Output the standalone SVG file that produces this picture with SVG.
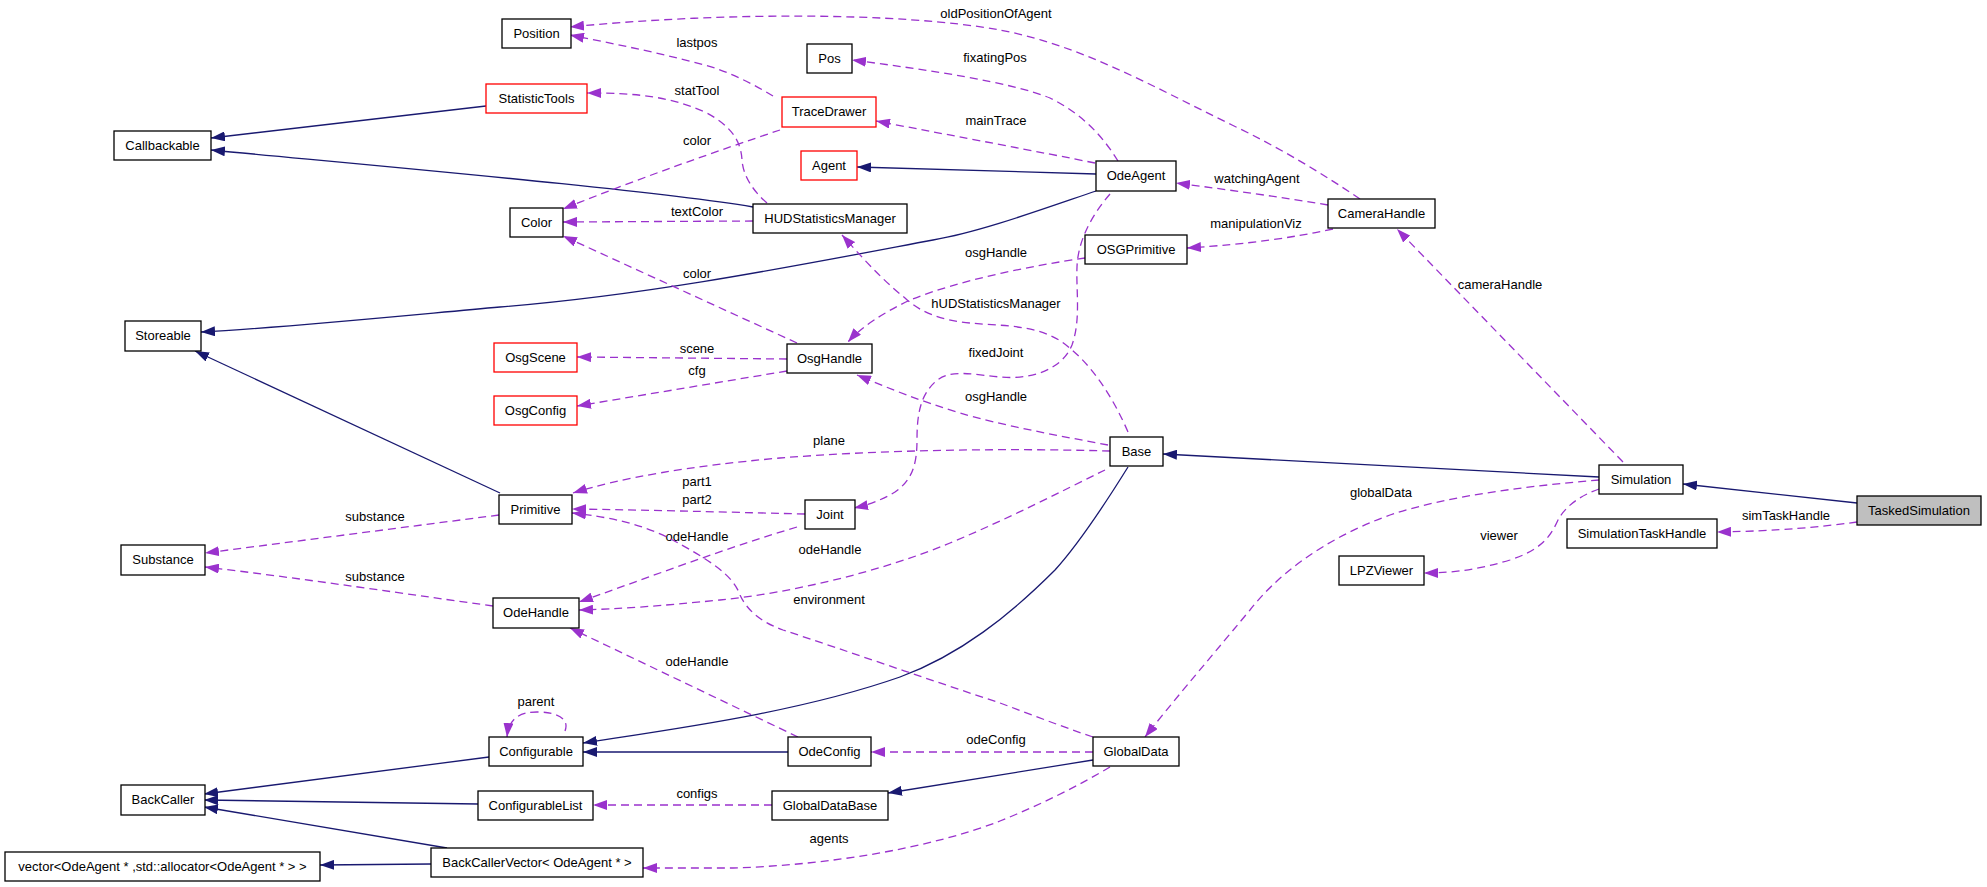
<svg xmlns="http://www.w3.org/2000/svg" width="1987" height="887" viewBox="0 0 1987 887">
<style>
.n rect{fill:#fff;stroke:#000;stroke-width:1.3}
.n.r rect{stroke:#f00}
.n.g rect{fill:#bfbfbf}
text{font-family:"Liberation Sans",Arial,Helvetica,sans-serif;font-size:13px;fill:#000;text-anchor:middle}
.inh{fill:none;stroke:#191970;stroke-width:1.3;marker-end:url(#ai)}
.use{fill:none;stroke:#9a32cd;stroke-width:1.3;stroke-dasharray:8,5;marker-end:url(#au)}
</style>
<defs>
<marker id="ai" markerUnits="userSpaceOnUse" viewBox="0 0 14 10" markerWidth="14" markerHeight="10" refX="14" refY="5" orient="auto"><path d="M0,0 L14,5 L0,10 z" fill="#191970"/></marker>
<marker id="au" markerUnits="userSpaceOnUse" viewBox="0 0 14 10" markerWidth="14" markerHeight="10" refX="14" refY="5" orient="auto"><path d="M0,0 L14,5 L0,10 z" fill="#9a32cd"/></marker>
</defs>
<rect width="1987" height="887" fill="#fff"/>
<g id="edges">
<path class="inh" d="M486,106 L211,138"/>
<path class="inh" d="M753,207 C650,190 400,168 211,150"/>
<path class="inh" d="M1096,174 L857,167"/>
<path class="inh" d="M1096,191 C1040,210 980,232 933,240 C800,265 650,295 500,307 C400,316 280,328 201,332"/>
<path class="inh" d="M500,493 L195,351"/>
<path class="inh" d="M1128,467 C1100,512 1075,548 1055,570 C1010,615 960,655 900,677 C800,712 680,728 583,743"/>
<path class="inh" d="M788,752 L583,752"/>
<path class="inh" d="M1093,760 L888,793"/>
<path class="inh" d="M489,757 L204,794"/>
<path class="inh" d="M478,804 L204,800"/>
<path class="inh" d="M447,848 L204,807"/>
<path class="inh" d="M431,864 L320,865"/>
<path class="inh" d="M1599,477 L1163,454"/>
<path class="inh" d="M1857,503 L1683,484"/>

<path class="use" d="M1360,199 C1320,172 1280,148 1232,125 C1150,85 1080,45 1000,30 C900,12 720,12 570,27"/>
<text x="996" y="18">oldPositionOfAgent</text>
<path class="use" d="M773,96 C755,85 735,75 715,68 C670,55 620,45 570,35"/>
<text x="697" y="47">lastpos</text>
<path class="use" d="M1118,161 C1105,140 1085,115 1050,98 C1010,82 930,70 852,60"/>
<text x="995" y="62">fixatingPos</text>
<path class="use" d="M1095,163 C1040,152 960,137 876,121"/>
<text x="996" y="125">mainTrace</text>
<path class="use" d="M780,130 C720,150 640,178 563,209"/>
<text x="697" y="145">color</text>
<path class="use" d="M767,203 C752,190 743,175 742,160 C741,140 730,125 705,112 C670,97 640,93 587,93"/>
<text x="697" y="95">statTool</text>
<path class="use" d="M753,221 L563,222"/>
<text x="697" y="216">textColor</text>
<path class="use" d="M797,343 L563,236"/>
<text x="697" y="278">color</text>
<path class="use" d="M1085,258 C1030,266 960,280 910,300 C885,312 862,326 848,342"/>
<text x="996" y="257">osgHandle</text>
<path class="use" d="M1328,205 C1280,197 1230,190 1176,183"/>
<text x="1257" y="183">watchingAgent</text>
<path class="use" d="M1333,229 C1290,238 1250,244 1187,248"/>
<text x="1256" y="228">manipulationViz</text>
<path class="use" d="M1623,462 L1397,229"/>
<text x="1500" y="289">cameraHandle</text>
<path class="use" d="M787,359 L577,357"/>
<text x="697" y="353">scene</text>
<path class="use" d="M787,371 L577,406"/>
<text x="697" y="375">cfg</text>
<path class="use" d="M1128,432 C1112,395 1090,362 1062,342 C1035,324 1000,326 970,323 C940,320 920,312 905,298 C880,278 860,255 842,235"/>
<text x="996" y="308">hUDStatisticsManager</text>
<path class="use" d="M1110,194 C1092,215 1078,240 1077,267 C1076,290 1081,320 1072,345 C1062,370 1030,380 1000,377 C975,375 950,368 935,382 C920,396 917,415 917,440 C917,465 912,480 895,492 C882,500 868,505 854,508"/>
<text x="996" y="357">fixedJoint</text>
<path class="use" d="M1108,445 C1060,436 1000,425 960,413 C920,401 888,388 857,375"/>
<text x="996" y="401">osgHandle</text>
<path class="use" d="M1110,451 C1000,448 880,450 780,458 C690,466 620,478 573,493"/>
<text x="829" y="445">plane</text>
<path class="use" d="M805,514 C720,512 650,510 572,509"/>
<text x="697" y="486">part1</text>
<text x="697" y="504">part2</text>
<path class="use" d="M797,527 C720,550 650,577 579,602"/>
<text x="697" y="541">odeHandle</text>
<path class="use" d="M1105,470 C1060,492 1010,518 950,543 C880,572 790,593 720,600 C660,606 620,609 579,610"/>
<text x="830" y="554">odeHandle</text>
<path class="use" d="M1093,737 C1060,726 1030,714 1000,703 C930,680 850,652 783,630 C758,621 746,608 740,595 C733,575 710,560 667,537 C640,524 610,517 572,513"/>
<text x="829" y="604">environment</text>
<path class="use" d="M798,737 L570,628"/>
<text x="697" y="666">odeHandle</text>
<path class="use" d="M565,731 C570,718 556,712 537,712 C520,712 509,718 507,737"/>
<text x="536" y="706">parent</text>
<path class="use" d="M1093,752 L871,752"/>
<text x="996" y="744">odeConfig</text>
<path class="use" d="M772,805 L593,805"/>
<text x="697" y="798">configs</text>
<path class="use" d="M1110,767 C1080,785 1040,805 1000,821 C930,848 830,865 733,868 L643,868"/>
<text x="829" y="843">agents</text>
<path class="use" d="M1599,480 C1530,486 1450,495 1390,515 C1320,540 1275,578 1250,610 C1200,670 1170,705 1145,737"/>
<text x="1381" y="497">globalData</text>
<path class="use" d="M1599,489 C1582,495 1566,505 1558,520 C1550,538 1540,550 1510,560 C1480,569 1455,573 1424,573"/>
<text x="1499" y="540">viewer</text>
<path class="use" d="M1857,522 C1820,527 1780,531 1717,532"/>
<text x="1786" y="520">simTaskHandle</text>
<path class="use" d="M499,515 L205,553"/>
<text x="375" y="521">substance</text>
<path class="use" d="M493,606 C420,596 300,578 205,567"/>
<text x="375" y="581">substance</text>
</g>

<g id="node-Callbackable" class="n"><rect x="114" y="131" width="97" height="29"/><text x="162.5" y="150">Callbackable</text></g>
<g id="node-Position" class="n"><rect x="502" y="19" width="69" height="29"/><text x="536.5" y="38">Position</text></g>
<g id="node-Pos" class="n"><rect x="807" y="44" width="45" height="29"/><text x="829.5" y="63">Pos</text></g>
<g id="node-StatisticTools" class="n r"><rect x="486" y="84" width="101" height="29"/><text x="536.5" y="103">StatisticTools</text></g>
<g id="node-TraceDrawer" class="n r"><rect x="782" y="97" width="94" height="30"/><text x="829" y="116">TraceDrawer</text></g>
<g id="node-Agent" class="n r"><rect x="801" y="151" width="56" height="29"/><text x="829" y="170">Agent</text></g>
<g id="node-Color" class="n"><rect x="510" y="208" width="53" height="29"/><text x="536.5" y="227">Color</text></g>
<g id="node-HUDStatisticsManager" class="n"><rect x="753" y="204" width="154" height="29"/><text x="830" y="223">HUDStatisticsManager</text></g>
<g id="node-OdeAgent" class="n"><rect x="1096" y="161" width="80" height="30"/><text x="1136" y="180">OdeAgent</text></g>
<g id="node-CameraHandle" class="n"><rect x="1328" y="199" width="107" height="29"/><text x="1381.5" y="218">CameraHandle</text></g>
<g id="node-OSGPrimitive" class="n"><rect x="1085" y="235" width="102" height="29"/><text x="1136" y="254">OSGPrimitive</text></g>
<g id="node-Storeable" class="n"><rect x="125" y="321" width="76" height="30"/><text x="163" y="340">Storeable</text></g>
<g id="node-OsgScene" class="n r"><rect x="494" y="343" width="83" height="29"/><text x="535.5" y="362">OsgScene</text></g>
<g id="node-OsgConfig" class="n r"><rect x="494" y="396" width="83" height="29"/><text x="535.5" y="415">OsgConfig</text></g>
<g id="node-OsgHandle" class="n"><rect x="787" y="344" width="85" height="29"/><text x="829.5" y="363">OsgHandle</text></g>
<g id="node-Base" class="n"><rect x="1110" y="437" width="53" height="29"/><text x="1136.5" y="456">Base</text></g>
<g id="node-Primitive" class="n"><rect x="499" y="495" width="73" height="29"/><text x="535.5" y="514">Primitive</text></g>
<g id="node-Joint" class="n"><rect x="805" y="500" width="50" height="29"/><text x="830" y="519">Joint</text></g>
<g id="node-Substance" class="n"><rect x="121" y="545" width="84" height="30"/><text x="163" y="564">Substance</text></g>
<g id="node-OdeHandle" class="n"><rect x="493" y="598" width="86" height="30"/><text x="536" y="617">OdeHandle</text></g>
<g id="node-LPZViewer" class="n"><rect x="1339" y="556" width="85" height="29"/><text x="1381.5" y="575">LPZViewer</text></g>
<g id="node-Simulation" class="n"><rect x="1599" y="465" width="84" height="29"/><text x="1641" y="484">Simulation</text></g>
<g id="node-SimulationTaskHandle" class="n"><rect x="1567" y="519" width="150" height="29"/><text x="1642" y="538">SimulationTaskHandle</text></g>
<g id="node-TaskedSimulation" class="n g"><rect x="1857" y="496" width="124" height="29"/><text x="1919" y="515">TaskedSimulation</text></g>
<g id="node-Configurable" class="n"><rect x="489" y="737" width="94" height="29"/><text x="536" y="756">Configurable</text></g>
<g id="node-OdeConfig" class="n"><rect x="788" y="737" width="83" height="29"/><text x="829.5" y="756">OdeConfig</text></g>
<g id="node-GlobalData" class="n"><rect x="1093" y="737" width="86" height="29"/><text x="1136" y="756">GlobalData</text></g>
<g id="node-BackCaller" class="n"><rect x="121" y="785" width="84" height="30"/><text x="163" y="804">BackCaller</text></g>
<g id="node-ConfigurableList" class="n"><rect x="478" y="791" width="115" height="29"/><text x="535.5" y="810">ConfigurableList</text></g>
<g id="node-GlobalDataBase" class="n"><rect x="772" y="791" width="116" height="29"/><text x="830" y="810">GlobalDataBase</text></g>
<g id="node-vector" class="n"><rect x="5" y="852" width="315" height="29"/><text x="162.5" y="871">vector&lt;OdeAgent * ,std::allocator&lt;OdeAgent * &gt; &gt;</text></g>
<g id="node-BackCallerVector" class="n"><rect x="431" y="848" width="212" height="29"/><text x="537" y="867">BackCallerVector&lt; OdeAgent * &gt;</text></g>
</svg>
